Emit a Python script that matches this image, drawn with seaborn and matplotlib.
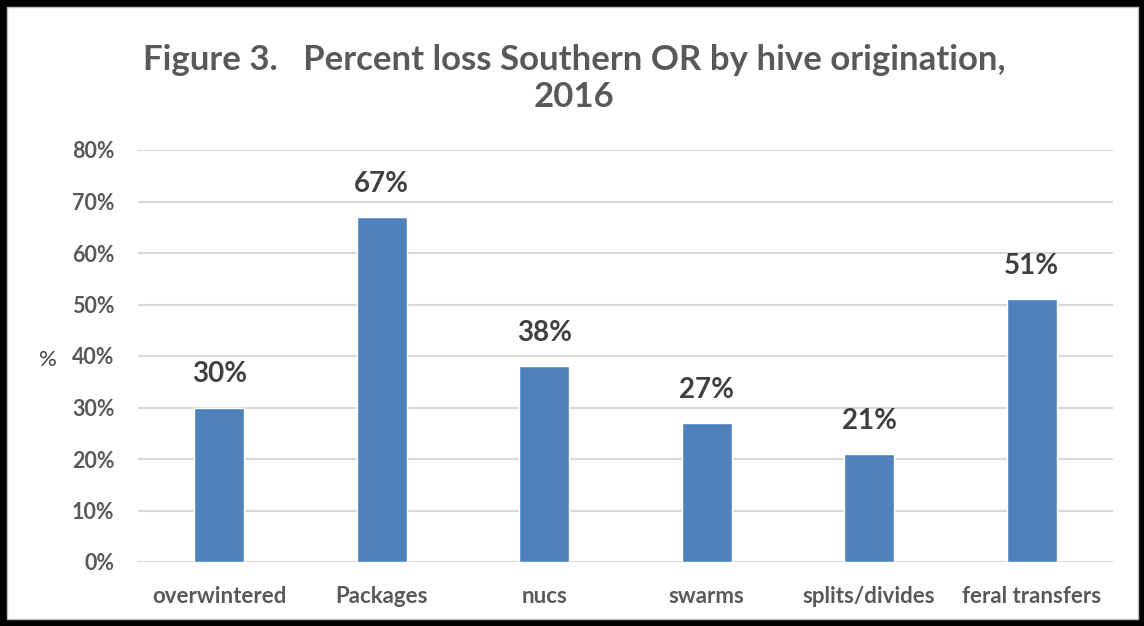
import pandas as pd
import numpy as np
import seaborn as sns
import matplotlib.pyplot as plt
from matplotlib.patches import Rectangle

categories = ['overwintered', 'Packages', 'nucs', 'swarms', 'splits/divides', 'feral transfers']
loss_pct = [30, 67, 38, 27, 21, 51]
y_ticks = [0, 10, 20, 30, 40, 50, 60, 70, 80]

sns.set_theme(style='white')
plt.rcParams['font.family'] = ['Lato', 'DejaVu Sans']

df = pd.DataFrame({'origin': categories, 'loss': loss_pct})

W, H = 1144, 626
fig = plt.figure(figsize=(W / 100, H / 100), dpi=100)
fig.patch.set_facecolor('black')
# white chart area inside thick black frame
fig.patches.append(Rectangle((7 / W, 7 / H), 1131 / W, 612 / H, transform=fig.transFigure,
                             facecolor='white', edgecolor='#BFBFBF', linewidth=1, zorder=-10))

ax = fig.add_axes([138 / W, (H - 562) / H, (1113 - 138) / W, (562 - 150) / H])
ax.set_zorder(5)
ax.set_facecolor('none')
sns.barplot(data=df, x='origin', y='loss', color='#4F81BD', width=0.31, saturation=1, ax=ax, zorder=3)

ax.set_ylim(0, 80)
ax.set_xlim(-0.5, len(categories) - 0.5)
ax.set_yticks(y_ticks)
ax.set_yticklabels([f'{t}%' for t in y_ticks], fontsize=15.5, fontweight='bold', color='#595959')
ax.set_xticks(range(len(categories)))
ax.set_xticklabels(categories, fontsize=16, fontweight='bold', color='#595959')
ax.tick_params(axis='y', length=0, pad=17)
ax.tick_params(axis='x', length=0, pad=17)
ax.grid(axis='y', color='#D9D9D9', linewidth=1.5, zorder=0)
ax.set_axisbelow(True)
for s in ax.spines.values():
    s.set_visible(False)
ax.set_xlabel('')
ax.set_ylabel('')

for i, v in enumerate(loss_pct):
    ax.annotate(f'{v}%', (i, v), xytext=(0, 20), textcoords='offset pixels', ha='center', va='bottom',
                fontsize=20, fontweight='bold', color='#404040')

fig.text(48 / W, (H - 360) / H, '%', fontsize=16, color='#404040', ha='center', va='center')
fig.text(574 / W, (H - 60) / H, 'Figure 3.   Percent loss Southern OR by hive origination,',
         fontsize=25, fontweight='bold', color='#595959', ha='center', va='center')
fig.text(574 / W, (H - 97) / H, '2016', fontsize=25, fontweight='bold', color='#595959',
         ha='center', va='center')

fig.savefig('out.png', dpi=100, facecolor=fig.get_facecolor())
